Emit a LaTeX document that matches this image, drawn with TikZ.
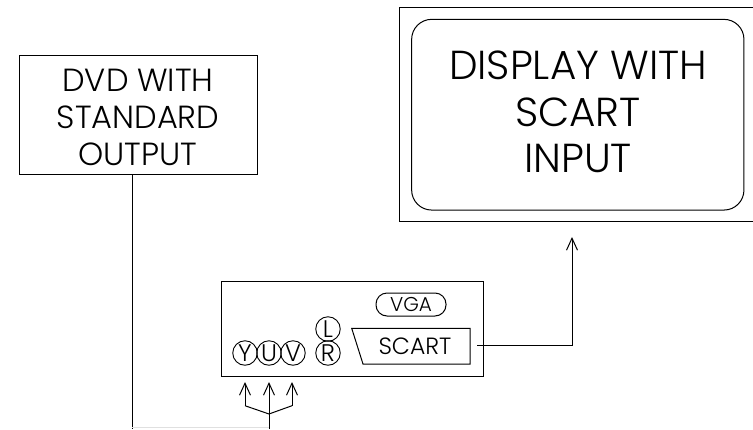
\documentclass[tikz,border=0pt]{standalone}
\usepackage{fontspec}
\setmainfont{Poppins}[UprightFont=* Light]
\usetikzlibrary{arrows.meta}
\tikzset{
  x=1pt,y=-1pt,
  wire/.style={draw=black,line width=1pt},
  hd/.style={wire,-{Straight Barb[length=12pt,width=11pt,line width=1pt]}},
  bx/.style={draw=black,line width=1pt},
  lab/.style={inner sep=0,align=center,font=\fontsize{32}{37}\selectfont},
  biglab/.style={inner sep=0,align=center,font=\fontsize{40.5}{46.6}\selectfont},
  port/.style={draw=black,line width=0.9pt,circle,minimum size=24.5pt,inner sep=0,font=\fontsize{24}{24}\selectfont},
  small/.style={inner sep=0,font=\fontsize{23.5}{24}\selectfont}
}
\begin{document}
\begin{tikzpicture}
\useasboundingbox (0,0) rectangle (753,429);
\clip (0,0) rectangle (753,429);
\node[bx,minimum width=238pt,minimum height=118.5pt,inner sep=0] (dvd) at (138,114.8) {};
\node[lab] (dvdt) at (138,117) {DVD WITH\\STANDARD\\OUTPUT};
\node[bx,minimum width=360pt,minimum height=213.7pt,inner sep=0] (outer) at (579.3,114.2) {};
\node[bx,rounded corners=20pt,minimum width=332.3pt,minimum height=190.7pt,inner sep=0] (screen) at (577.8,114.7) {};
\node[biglab] (dispt) at (578,112) {DISPLAY WITH\\SCART\\INPUT};
\node[bx,minimum width=262pt,minimum height=95pt,inner sep=0] (dev) at (352,328.5) {};
\node[bx,rounded corners=11pt,minimum width=70pt,minimum height=23pt,inner sep=0,font=\fontsize{20}{20}\selectfont] (vga) at (411,304.5) {VGA};
\draw[bx] (351.7,328.3) coordinate (s1) -- (470,328.3) -- (470,364) coordinate (s2) -- (363,364) -- cycle;
\node[small] (scart) at (415,346.5) {SCART};
\node[port] (l) at (328,329) {L};
\node[port] (r) at (328,353) {R};
\node[port] (y) at (245,353) {Y};
\node[port] (u) at (269,353) {U};
\node[port] (v) at (293,353) {V};
\coordinate (sstart) at (477,345.5);
\coordinate (bend) at (572,345.5);
\coordinate (dtop) at (132,174);
\coordinate (dbot) at (132,429);
\coordinate (dturn) at (132,427.5);
\coordinate (jb) at (269,429);
\coordinate (jt) at (269,427.5);
\coordinate (j) at (269,414);
\coordinate (ya) at (245,405.7);
\coordinate (va) at (292,405.7);
\draw[wire] (sstart) -- (bend);
\draw[hd] (bend) -- (572,237);
\draw[wire] (dtop) -- (dbot);
\draw[draw=black!12,line width=1pt] (dturn) -- (jt);
\draw[wire] (jb) -- (j);
\draw[hd] (j) -- (269,382);
\draw[wire] (j) -- (ya);
\draw[wire] (j) -- (va);
\draw[hd] (ya) -- (245,382);
\draw[hd] (va) -- (292,382);
\end{tikzpicture}
\end{document}
